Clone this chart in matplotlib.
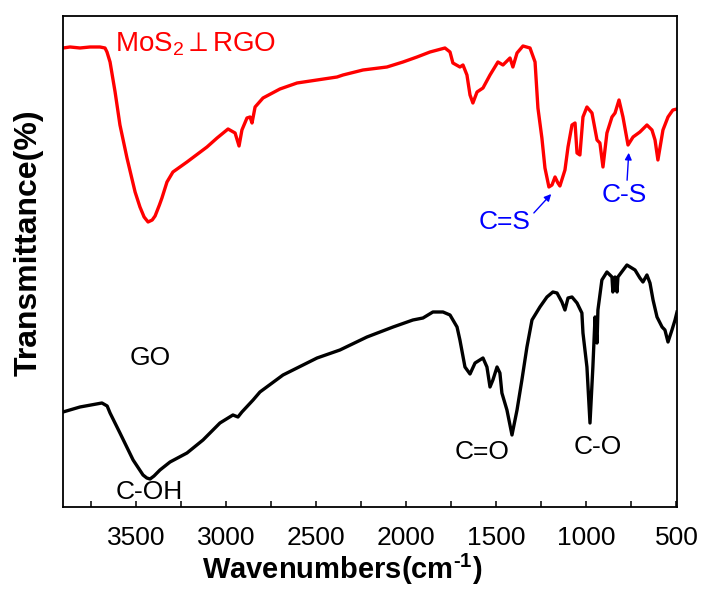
import matplotlib
matplotlib.use("Agg")
import matplotlib.pyplot as plt
from matplotlib.ticker import MultipleLocator

plt.rcParams['font.family'] = ['Liberation Sans', 'DejaVu Sans']
plt.rcParams['mathtext.fontset'] = 'custom'
plt.rcParams['mathtext.rm'] = 'Liberation Sans'
plt.rcParams['mathtext.it'] = 'Liberation Sans:italic'
plt.rcParams['mathtext.bf'] = 'Liberation Sans:bold'

# FTIR spectra, transmittance in arbitrary units
wn_rgo = [3905, 3866, 3811, 3755, 3700, 3672, 3661, 3644, 3616, 3589, 3550, 3505,
          3478, 3455, 3433, 3410, 3394, 3370, 3356, 3328, 3295, 3217, 3106, 3050, 2989, 2950, 2928,
          2912, 2884, 2867, 2856, 2839, 2795, 2701, 2606, 2495, 2384, 2351, 2240,
          2107, 2018, 1940, 1868, 1785, 1757, 1741, 1702, 1685, 1663, 1646, 1630,
          1607, 1574, 1535, 1491, 1463, 1424, 1408, 1385, 1352, 1313, 1285, 1269,
          1247, 1230, 1208, 1191, 1174, 1158, 1147, 1119, 1102, 1080, 1063, 1052,
          1036, 1019, 997, 969, 941, 925, 908, 886, 858, 841, 819, 797, 769, 741,
          703, 664, 636, 619, 603, 575, 547, 520, 497]
t_rgo = [459, 460, 459, 460, 460, 459, 455, 445, 415, 382, 349, 315,
         300, 290, 285, 287, 291, 302, 309, 325, 335, 345, 360, 369, 378, 374, 361,
         377, 389, 390, 384, 400, 409, 418, 424, 427, 430, 432, 437,
         440, 445, 450, 455, 459, 455, 444, 440, 442, 432, 412, 404,
         415, 419, 432, 445, 442, 449, 440, 454, 461, 459, 445, 399,
         369, 339, 320, 322, 330, 324, 321, 337, 360, 382, 384, 354,
         352, 390, 400, 394, 367, 364, 340, 374, 390, 394, 407, 390, 362, 370,
         375, 382, 377, 367, 347, 377, 390, 397, 398]

wn_go = [3905, 3811, 3689, 3660, 3644, 3589, 3516, 3461, 3440, 3422, 3400, 3367, 3311, 3217, 3128,
         3034, 2962, 2934, 2912, 2850, 2812, 2684, 2495, 2368, 2218, 2073, 1963,
         1907, 1852, 1796, 1757, 1718, 1702, 1674, 1646, 1618, 1574, 1552, 1535,
         1519, 1496, 1480, 1469, 1441, 1413, 1385, 1358, 1330, 1302, 1258, 1219,
         1186, 1163, 1136, 1119, 1102, 1080, 1052, 1025, 1019, 997, 980, 964,
         952, 941, 936, 914, 886, 858, 853, 841, 830, 825, 775, 730, 703, 686,
         664, 647, 630, 608, 580, 564, 547, 525, 508, 497]
t_go = [95, 100, 104, 101, 94, 74, 47, 32, 29, 28, 31, 37, 45, 54, 67,
        84, 92, 90, 95, 107, 115, 132, 149, 157, 170, 180, 187,
        189, 195, 195, 192, 180, 167, 140, 133, 144, 149, 140, 120,
        127, 140, 134, 114, 97, 72, 97, 127, 160, 187, 200, 210,
        215, 214, 205, 197, 209, 210, 204, 194, 174, 140, 84, 140,
        190, 164, 197, 227, 235, 230, 215, 230, 215, 230, 242, 237, 229, 225,
        232, 224, 207, 190, 180, 177, 165, 177, 187, 195]

fig = plt.figure(figsize=(7.05, 5.99), dpi=100)
ax = fig.add_axes([0.0894, 0.1536, 0.8709, 0.8197])

ax.plot(wn_rgo, t_rgo, color='#ff0000', lw=2.4, solid_joinstyle='round')
ax.plot(wn_go, t_go, color='black', lw=2.4, solid_joinstyle='round')

ax.set_xlim(3905, 497)
ax.set_ylim(0, 491)

ax.xaxis.set_major_locator(MultipleLocator(500))
ax.xaxis.set_minor_locator(MultipleLocator(250))
ax.tick_params(axis='x', which='both', direction='in', length=4, width=1.1,
               labelsize=19, pad=14, top=False)
ax.set_yticks([])
for s in ax.spines.values():
    s.set_linewidth(1.3)
    s.set_color('black')

ax.set_xlabel('Wavenumbers(cm$^{\\mathbf{\u2010 1}}$)', fontsize=21, fontweight='bold')
ax.xaxis.set_label_coords(0.454, -0.092)
ax.set_ylabel('Transmittance(%)', fontsize=23, fontweight='bold')
ax.yaxis.set_label_coords(-0.032, 0.538)

ax.text(3616, 455, r'MoS$_{\mathregular{2}}{\perp}$RGO', color='#ff0000', fontsize=20,
        ha='left', va='baseline')
ax.text(3422, 149, 'GO', fontsize=19, ha='center', va='center')
ax.text(3428, 15, 'C-OH', fontsize=19, ha='center', va='center')
ax.text(1580, 55, 'C=O', fontsize=19, ha='center', va='center')
ax.text(936, 60, 'C-O', fontsize=19, ha='center', va='center')

blue = '#0000ff'
ax.annotate('', xy=(1185, 315), xytext=(1302, 292),
            arrowprops=dict(arrowstyle='-|>', color=blue, lw=1, mutation_scale=10))
ax.text(1452, 285, 'C=S', fontsize=19, color=blue, ha='center', va='center')
ax.annotate('', xy=(764, 357), xytext=(775, 324),
            arrowprops=dict(arrowstyle='-|>', color=blue, lw=1, mutation_scale=10))
ax.text(792, 312, 'C-S', fontsize=19, color=blue, ha='center', va='center')

fig.savefig('out.png', dpi=100)
